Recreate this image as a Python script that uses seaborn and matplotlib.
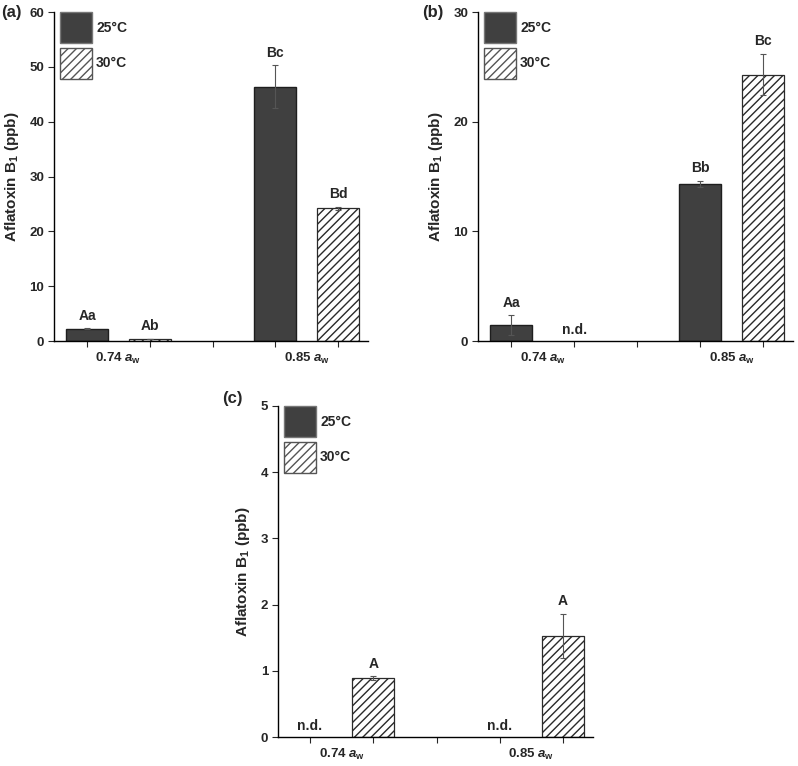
import matplotlib
matplotlib.use("Agg")
import matplotlib.pyplot as plt
from matplotlib.patches import Patch
import seaborn as sns
import pandas as pd
import numpy as np

# ---------------- data ----------------
aw_levels = ["0.74", "0.85"]
temps = ["25°C", "30°C"]
panels = ["(a)", "(b)", "(c)"]

# means (None = not detected)
a_mean_25 = [2.2, 46.4]
a_mean_30 = [0.4, 24.2]
a_err_25 = [0.1, 3.9]
a_err_30 = [0.05, 0.3]
a_text_25 = ["Aa", "Bc"]
a_text_30 = ["Ab", "Bd"]

b_mean_25 = [1.45, 14.3]
b_mean_30 = [None, 24.3]
b_err_25 = [0.9, 0.3]
b_err_30 = [None, 1.9]
b_text_25 = ["Aa", "Bb"]
b_text_30 = ["n.d.", "Bc"]

c_mean_25 = [None, None]
c_mean_30 = [0.89, 1.53]
c_err_25 = [None, None]
c_err_30 = [0.03, 0.33]
c_text_25 = ["n.d.", "n.d."]
c_text_30 = ["A", "A"]

y_max = [60, 30, 5]
y_step = [10, 10, 1]

# ---------------- style ----------------
sns.set_theme(style="ticks")
plt.rcParams["font.family"] = ["Liberation Sans", "DejaVu Sans"]
plt.rcParams["font.weight"] = "bold"
plt.rcParams["mathtext.fontset"] = "custom"
plt.rcParams["mathtext.rm"] = "Liberation Sans:bold"
plt.rcParams["mathtext.bf"] = "Liberation Sans:bold"
plt.rcParams["mathtext.it"] = "Liberation Sans:bold:italic"
plt.rcParams["hatch.linewidth"] = 1.0
plt.rcParams["axes.linewidth"] = 1.0

DARK = "#404040"
DARK_EDGE = "#1e1e1e"
HATCH_EDGE = "#2a2a2a"

fig = plt.figure(figsize=(7.98, 7.66), dpi=100)

W, H = 798, 766
def rect(l, r, t, b):
    return [l / W, 1 - b / H, (r - l) / W, (b - t) / H]

ax_rects = [rect(54, 368, 12, 341), rect(478, 793, 12, 341), rect(278, 593, 406, 737)]
xlims = [(-0.526, 4.478), (-0.526, 4.476), (-0.506, 4.474)]
letter_pos = [(1, 12), (422, 12), (222, 398)]

slot_order = ["0.74|25°C", "0.74|30°C", "gap", "0.85|25°C", "0.85|30°C"]

datasets = [
    (a_mean_25, a_mean_30, a_err_25, a_err_30, a_text_25, a_text_30),
    (b_mean_25, b_mean_30, b_err_25, b_err_30, b_text_25, b_text_30),
    (c_mean_25, c_mean_30, c_err_25, c_err_30, c_text_25, c_text_30),
]

for k, (m25, m30, e25, e30, t25, t30) in enumerate(datasets):
    ax = fig.add_axes(ax_rects[k])
    rows = []
    for i, aw in enumerate(aw_levels):
        for temp, means, errs, texts in [("25°C", m25, e25, t25), ("30°C", m30, e30, t30)]:
            rows.append(dict(slot=f"{aw}|{temp}", aw=aw, temp=temp,
                             value=np.nan if means[i] is None else means[i],
                             err=np.nan if errs[i] is None else errs[i],
                             label=texts[i]))
    df = pd.DataFrame(rows)
    df_plot = df.dropna(subset=["value"])
    sns.barplot(data=df_plot, x="slot", y="value", hue="temp", order=slot_order,
                hue_order=temps, palette={"25°C": DARK, "30°C": "white"},
                dodge=False, width=0.667, errorbar=None, legend=False,
                edgecolor=DARK_EDGE, linewidth=1.0, ax=ax)
    for p in ax.patches:
        fc = p.get_facecolor()
        if fc[0] > 0.9:
            p.set_hatch("////")
            p.set_edgecolor(HATCH_EDGE)
            p.set_linewidth(0.9)

    # error bars and letters
    for _, r in df.iterrows():
        pos = slot_order.index(r["slot"])
        if not np.isnan(r["value"]):
            ax.errorbar(pos, r["value"], yerr=r["err"], fmt="none",
                        ecolor="#555555", elinewidth=0.8, capsize=2.5,
                        capthick=0.8, zorder=5)
            top = r["value"] + r["err"]
            ax.annotate(r["label"], xy=(pos, top), xytext=(0, 9),
                        textcoords="offset points", ha="center", va="center",
                        fontsize=10, fontweight="bold")
        else:
            ax.annotate(r["label"], xy=(pos, 0), xytext=(0, 8),
                        textcoords="offset points", ha="center", va="center",
                        fontsize=10, fontweight="bold")

    ax.set_xlim(*xlims[k])
    ax.set_ylim(0, y_max[k])
    ticks = np.arange(0, y_max[k] + 0.001, y_step[k])
    ax.set_yticks(ticks)
    ax.set_yticklabels([f"{v:g}" for v in ticks], fontsize=9.5, fontweight="bold")
    ax.set_xticks([0.5, 3.5])
    ax.set_xticklabels([f"{aw} $a_\\mathrm{{w}}$" for aw in aw_levels],
                       fontsize=9.5, fontweight="bold")
    ax.set_xticks(range(5), minor=True)
    ax.tick_params(axis="x", which="major", length=0, pad=7)
    ax.tick_params(axis="x", which="minor", length=4, width=0.8, direction="out")
    ax.tick_params(axis="y", length=4, width=0.8, direction="out", pad=3)
    ax.set_xlabel("")
    ax.set_ylabel("Aflatoxin B$_1$ (ppb)", fontsize=11, fontweight="bold", labelpad=6)
    sns.despine(ax=ax)
    for s in ["left", "bottom"]:
        ax.spines[s].set_color("black")

    handles = [Patch(facecolor=DARK, edgecolor="#777777", linewidth=1.0, label="25°C"),
               Patch(facecolor="white", edgecolor="#555555", hatch="////",
                     linewidth=1.0, label="30°C")]
    leg_x = 6 / (ax_rects[k][2] * W)
    ax.legend(handles=handles, loc="upper left", bbox_to_anchor=(leg_x, 1.0),
              frameon=False, borderaxespad=0, borderpad=0,
              handlelength=2.3, handleheight=3.05, handletextpad=0.3,
              labelspacing=0.35, prop=dict(weight="bold", size=10))

    lx, ly = letter_pos[k]
    fig.text(lx / W, 1 - ly / H, panels[k], fontsize=12, fontweight="bold",
             ha="left", va="center")

fig.savefig("out.png", dpi=100)
